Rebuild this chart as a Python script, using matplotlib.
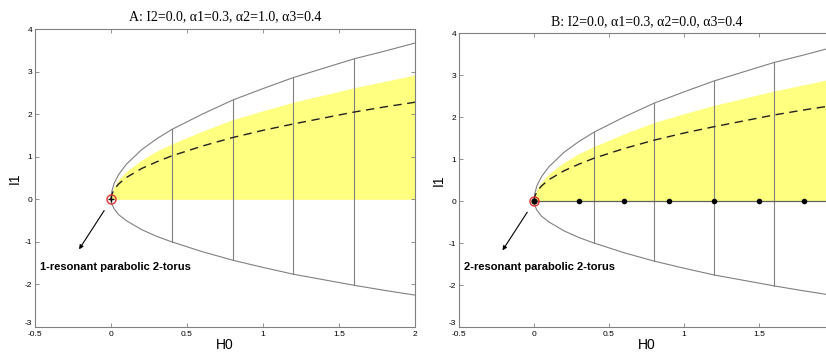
import numpy as np
import matplotlib.pyplot as plt

plt.rcParams['axes.unicode_minus'] = False

# sampled energy values and curves of the bifurcation diagram
h0 = [0, 0.005, 0.02, 0.05, 0.1, 0.2, 0.3, 0.4, 0.6, 0.8, 1.0, 1.2, 1.4, 1.6, 1.8, 2.0]
upper = [0, 0.18, 0.37, 0.58, 0.82, 1.16, 1.42, 1.64, 2.0, 2.33, 2.6, 2.86, 3.08, 3.3, 3.48, 3.67]
lower = [0, -0.11, -0.22, -0.36, -0.5, -0.71, -0.87, -1.0, -1.23, -1.43, -1.6, -1.76, -1.89, -2.02, -2.14, -2.25]
region_top = [0, 0.14, 0.29, 0.46, 0.65, 0.92, 1.13, 1.30, 1.60, 1.87, 2.08, 2.28, 2.45, 2.62, 2.77, 2.92]
critical = [0, 0.11, 0.23, 0.36, 0.51, 0.72, 0.88, 1.02, 1.25, 1.45, 1.62, 1.77, 1.91, 2.05, 2.17, 2.28]

slices = [0.4, 0.8, 1.2, 1.6]
b_points = [0.3, 0.6, 0.9, 1.2, 1.5, 1.8]

titles = ['A: I2=0.0, α1=0.3, α2=1.0, α3=0.4',
          'B: I2=0.0, α1=0.3, α2=0.0, α3=0.4']
notes = ['1-resonant parabolic 2-torus', '2-resonant parabolic 2-torus']
xticks = [-0.5, 0, 0.5, 1, 1.5, 2]
xlabels = [['-0.5', '0', '0.5', '1', '1.5', '2'],
           ['-0.5', '0', '0.5', '1', '1.5', '']]

fig = plt.figure(figsize=(8.26, 3.52), dpi=100)
axA = fig.add_axes([0.0424, 0.071, 0.46, 0.8466])
axB = fig.add_axes([0.5557, 0.071, 0.454, 0.835])

for k, ax in enumerate([axA, axB]):
    ax.fill_between(h0, 0, region_top, color='#ffff80', lw=0, zorder=1)
    ax.plot(h0, upper, color='#808080', lw=0.8, zorder=2)
    ax.plot(h0, lower, color='#808080', lw=0.8, zorder=2)
    for s in slices:
        ax.plot([s, s], [np.interp(s, h0, lower), np.interp(s, h0, upper)],
                color='#808080', lw=0.8, zorder=2)
    ax.plot(h0, critical, color='#202020', lw=1.0, ls=(0, (6, 4)), zorder=3)

    if k == 1:
        ax.plot([0, 2], [0, 0], color='#606060', lw=0.9, zorder=3)
        ax.plot(b_points, [0] * len(b_points), 'o', color='black', ms=3, zorder=4)
        ax.plot(0, 0, 'o', color='black', ms=3.5, zorder=5)
    else:
        ax.plot(0, 0, '+', color='black', ms=5, mew=1, zorder=5)
    ax.plot(0, 0, 'o', mfc='none', mec='#e03030', ms=6.5, mew=1, zorder=5)

    ax.annotate('', xy=(-0.22, -1.23), xytext=(-0.035, -0.21),
                arrowprops=dict(arrowstyle='-|>', color='black', lw=0.8,
                                mutation_scale=6))
    ax.text(-0.467, -1.58, notes[k], fontsize=8, fontweight='bold',
            family='Liberation Sans', va='center')

    ax.set_xlim(-0.5, 2)
    ax.set_ylim(-3, 4)
    ax.set_xticks(xticks)
    ax.set_xticklabels(xlabels[k])
    ax.set_yticks(range(-3, 5))
    ax.tick_params(direction='in', length=3, width=0.6, labelsize=6,
                   top=True, right=True, pad=2, colors='#808080',
                   labelcolor='black')
    ax.tick_params(axis='x', pad=3)
    for t in ax.get_xticklabels() + ax.get_yticklabels():
        t.set_family('Liberation Sans')
    # lift the bottom y label clear of the first x label
    ax.get_yticklabels()[0].set_va('bottom')
    for sp in ax.spines.values():
        sp.set_color('#808080')
        sp.set_linewidth(0.8)
    ax.set_xlabel('H0', fontsize=10, family='Liberation Sans', labelpad=0)
    ax.set_ylabel('I1', fontsize=10, family='Liberation Sans', labelpad=2)
    ax.set_title(titles[k], fontsize=10, family='Liberation Serif', pad=6)

fig.savefig('out.png', dpi=100)
